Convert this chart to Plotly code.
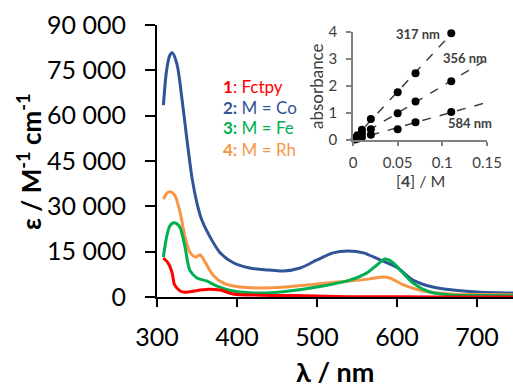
import numpy as np
import plotly.graph_objects as go

# ---------------- main spectra ----------------
wl_co = [308, 312, 316, 319, 325, 331, 337, 344, 350, 356, 366, 379, 396, 416, 440, 458, 479, 500, 520, 539, 558, 579, 600, 620, 645, 670, 700, 725, 745]
eps_co = [63500, 75000, 80000, 80800, 77000, 66000, 53000, 39000, 31000, 25500, 20000, 14600, 11250, 9600, 8900, 8600, 9600, 12250, 14600, 15200, 14600, 12250, 9800, 5600, 3300, 2300, 1650, 1400, 1300]

wl_fe = [308, 312, 316, 320, 325, 329, 335, 341, 350, 362, 375, 395, 429, 460, 500, 541, 562, 575, 585, 594, 604, 620, 641, 666, 700, 745]
eps_fe = [13200, 19900, 23500, 24500, 24200, 22900, 16600, 8900, 6300, 5300, 3600, 2000, 1300, 1800, 3300, 5600, 7900, 10600, 12600, 11600, 8900, 4600, 1650, 700, 500, 400]

wl_rh = [308, 312, 316, 322, 329, 335, 341, 348, 354, 360, 370, 383, 404, 429, 460, 500, 541, 566, 583, 591, 608, 633, 666, 700, 745]
eps_rh = [32400, 34200, 34800, 33800, 27800, 19900, 14900, 13200, 13900, 11600, 7300, 4600, 3300, 3000, 3300, 4300, 5300, 6000, 6600, 6300, 4000, 2000, 1000, 800, 700]

wl_fc = [308, 314, 319, 322, 329, 335, 345, 354, 366, 379, 395, 429, 470, 500, 540, 600, 700, 745]
eps_fc = [12900, 11200, 7900, 4000, 2000, 1600, 1900, 2300, 2600, 2300, 1000, 600, 500, 300, 100, 50, 30, 20]

x_ticks = [300, 400, 500, 600, 700]
y_ticks = [0, 15000, 30000, 45000, 60000, 75000, 90000]
y_ticktext = ["0", "15 000", "30 000", "45 000", "60 000", "75 000", "90 000"]

series_names = ["1: Fctpy", "2: M = Co", "3: M = Fe", "4: M = Rh"]
legend_html = ["<b>1</b>: Fctpy", "<b>2:</b> M = Co", "<b>3:</b> M = Fe", "<b>4:</b> M = Rh"]

# ---------------- inset (Beer-Lambert) ----------------
conc = [0.002, 0.005, 0.01, 0.02, 0.05, 0.07, 0.11]
abs_317 = [0.07, 0.18, 0.38, 0.78, 1.77, 2.47, 3.95]
abs_356 = [0.04, 0.10, 0.24, 0.40, 0.99, 1.43, 2.18]
abs_584 = [0.02, 0.05, 0.10, 0.19, 0.40, 0.66, 1.04]
inset_labels = ["317 nm", "356 nm", "584 nm"]
inset_label_pos = [(0.073, 3.92), (0.125, 3.05), (0.131, 0.64)]
inset_xticks = [0, 0.05, 0.1, 0.15]
inset_xticktext = ["0", "0.05", "0.1", "0.15"]
inset_yticks = [0, 1, 2, 3, 4]

W, H = 513, 388
FONT = "Lato"

c_fc, c_co, c_fe, c_rh = "#FF0000", "#2F5597", "#00B050", "#F79646"

fig = go.Figure()
for wl, ep, col, nm in [(wl_co, eps_co, c_co, series_names[1]),
                        (wl_rh, eps_rh, c_rh, series_names[3]),
                        (wl_fe, eps_fe, c_fe, series_names[2]),
                        (wl_fc, eps_fc, c_fc, series_names[0])]:
    fig.add_trace(go.Scatter(x=wl, y=ep, mode="lines", name=nm,
                             line=dict(color=col, width=3, shape="spline", smoothing=0.8),
                             xaxis="x", yaxis="y", showlegend=False))

# inset trend lines (least squares fits) and points
fit_x = np.array([0.0, 0.15])
for a in [abs_317, abs_356, abs_584]:
    k, b = np.polyfit(conc, a, 1)
    fig.add_trace(go.Scatter(x=fit_x, y=k * fit_x + b, mode="lines",
                             line=dict(color="#404040", width=1.5, dash="dash"),
                             xaxis="x2", yaxis="y2", showlegend=False))
for a in [abs_317, abs_356, abs_584]:
    fig.add_trace(go.Scatter(x=conc, y=a, mode="markers",
                             marker=dict(color="black", size=8),
                             cliponaxis=False,
                             xaxis="x2", yaxis="y2", showlegend=False))

annotations = []
# legend-like labels
leg_cols = [c_fc, c_co, c_fe, c_rh]
leg_y = [86, 107, 128, 149]
for txt, col, yy in zip(legend_html, leg_cols, leg_y):
    annotations.append(dict(text=txt, x=221 / W, y=1 - yy / H, xref="paper", yref="paper",
                            xanchor="left", yanchor="middle", showarrow=False,
                            font=dict(family=FONT, size=17, color=col)))
# inset labels
for txt, (lx, ly) in zip(inset_labels, inset_label_pos):
    annotations.append(dict(text="<b>" + txt + "</b>", x=lx, y=ly, xref="x2", yref="y2",
                            xanchor="center", yanchor="middle", showarrow=False,
                            font=dict(family=FONT, size=13, color="#404040")))
# axis titles
annotations.append(dict(text="<b>ε / M<sup>-1</sup> cm<sup>-1</sup></b>", x=29 / W, y=1 - 162 / H,
                        xref="paper", yref="paper", textangle=-90, showarrow=False,
                        xanchor="center", yanchor="middle",
                        font=dict(family=FONT, size=26, color="black")))
annotations.append(dict(text="<b>λ / nm</b>", x=335 / W, y=1 - 371 / H,
                        xref="paper", yref="paper", showarrow=False,
                        xanchor="center", yanchor="middle",
                        font=dict(family=FONT, size=27, color="black")))
annotations.append(dict(text="absorbance", x=316 / W, y=1 - 86 / H,
                        xref="paper", yref="paper", textangle=-90, showarrow=False,
                        xanchor="center", yanchor="middle",
                        font=dict(family=FONT, size=17, color="#404040")))
annotations.append(dict(text="[<b>4</b>] / M", x=420 / W, y=1 - 180 / H,
                        xref="paper", yref="paper", showarrow=False,
                        xanchor="center", yanchor="middle",
                        font=dict(family=FONT, size=16, color="#404040")))

fig.update_layout(
    width=W, height=H, margin=dict(l=0, r=0, t=0, b=0, autoexpand=False),
    paper_bgcolor="white", plot_bgcolor="rgba(0,0,0,0)",
    font=dict(family=FONT, color="black"),
    showlegend=False,
    annotations=annotations,
    xaxis=dict(domain=[157 / W, 1.0], range=[300, 745], tickvals=x_ticks, automargin=False,
               showgrid=False, zeroline=False, showline=True, linecolor="black", linewidth=2,
               ticks="outside", ticklen=8, tickwidth=2, tickcolor="black",
               tickfont=dict(family=FONT, size=25, color="black"), ticklabelstandoff=9,
               anchor="y"),
    yaxis=dict(domain=[91 / H, 363 / H], range=[0, 90000], tickvals=y_ticks, ticktext=y_ticktext,
               automargin=False,
               showgrid=False, zeroline=False, showline=True, linecolor="black", linewidth=2,
               ticks="outside", ticklen=10, tickwidth=2, tickcolor="black",
               tickfont=dict(family=FONT, size=25, color="black"), ticklabelstandoff=14,
               anchor="x"),
    xaxis2=dict(domain=[353 / W, 487 / W], range=[0, 0.15], tickvals=inset_xticks,
                ticktext=inset_xticktext, automargin=False,
                showgrid=False, zeroline=False, showline=True, linecolor="#808080", linewidth=1.5,
                ticks="outside", ticklen=4, tickwidth=1.5, tickcolor="#808080",
                tickfont=dict(family=FONT, size=15, color="#404040"), ticklabelstandoff=4,
                anchor="y2"),
    yaxis2=dict(domain=[248 / H, 356 / H], range=[0, 4], tickvals=inset_yticks,
                automargin=False,
                showgrid=False, zeroline=False, showline=True, linecolor="#808080", linewidth=1.5,
                ticks="outside", ticklen=5, tickwidth=1.5, tickcolor="#808080",
                tickfont=dict(family=FONT, size=15, color="#404040"), ticklabelstandoff=6,
                anchor="x2"),
)

fig.write_html("out.html")
